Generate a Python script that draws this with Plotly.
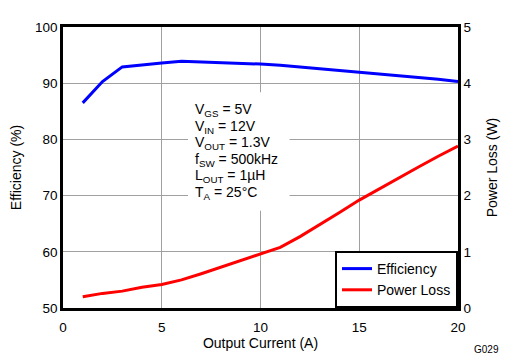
import plotly.graph_objects as go

current = [1, 2, 3, 4, 5, 6, 7, 8, 9, 10, 11, 12, 13, 14, 15, 16, 17, 18, 19, 20]
efficiency = [86.5, 90.3, 92.9, 93.3, 93.6, 93.9, 93.8, 93.6, 93.5, 93.4,
              93.2, 92.9, 92.6, 92.3, 91.9, 91.7, 91.4, 91.1, 90.7, 90.3]
power_loss = [0.20, 0.26, 0.30, 0.37, 0.42, 0.50, 0.61, 0.73, 0.85, 0.97,
              1.08, 1.27, 1.48, 1.70, 1.92, 2.12, 2.32, 2.51, 2.70, 2.88]

info_lines = ["V<sub>GS</sub> = 5V", "V<sub>IN</sub> = 12V", "V<sub>OUT</sub> = 1.3V",
              "f<sub>SW</sub> = 500kHz", "L<sub>OUT</sub> = 1µH", "T<sub>A</sub> = 25°C"]

FONT = "Liberation Sans, Arial, sans-serif"

fig = go.Figure()
fig.add_trace(go.Scatter(x=current, y=efficiency, mode="lines", name="Efficiency",
                         line=dict(color="#0000ff", width=3), yaxis="y"))
fig.add_trace(go.Scatter(x=current, y=power_loss, mode="lines", name="Power Loss",
                         line=dict(color="#ff0000", width=3), yaxis="y2"))

fig.update_layout(
    width=510, height=352,
    margin=dict(l=55, r=60, t=19, b=52, autoexpand=False),
    paper_bgcolor="white", plot_bgcolor="white",
    font=dict(family=FONT, size=13.5, color="black"),
    xaxis=dict(range=[0, 20], tickvals=[0, 5, 10, 15, 20], showgrid=True,
               gridcolor="#a0a0a0", gridwidth=1, zeroline=False, automargin=False,
               showline=True, linecolor="black", linewidth=2.5, mirror=True,
               ticks="", ticklabelstandoff=5,
               title=dict(text="Output Current (A)", standoff=2, font=dict(size=14))),
    yaxis=dict(range=[50, 100], tickvals=[50, 60, 70, 80, 90, 100], showgrid=True,
               gridcolor="#a0a0a0", gridwidth=1, zeroline=False, automargin=False,
               showline=True, linecolor="black", linewidth=2.5, mirror=True,
               ticks="", title=dict(text="Efficiency (%)", standoff=13,
                                    font=dict(size=14))),
    yaxis2=dict(range=[0, 5], tickvals=[0, 1, 2, 3, 4, 5], overlaying="y", side="right",
                showgrid=False, zeroline=False, showline=True, linecolor="black",
                linewidth=2.5, ticks="", automargin=False,
                title=dict(text="Power Loss (W)", standoff=17, font=dict(size=14))),
    legend=dict(x=1, y=0, xanchor="right", yanchor="bottom", bgcolor="white",
                bordercolor="black", borderwidth=2, font=dict(size=14),
                tracegroupgap=0, itemwidth=30),
    showlegend=True,
)

# white box behind the operating-condition text
fig.add_shape(type="rect", xref="x", yref="y", x0=6.33, x1=11.47, y0=67.3, y1=88.4,
              fillcolor="white", line=dict(width=0), layer="above")

line_y = [85.2, 82.25, 79.3, 76.35, 73.4, 70.45]
for txt, yv in zip(info_lines, line_y):
    fig.add_annotation(x=6.6, y=yv, xref="x", yref="y", xanchor="left", yanchor="middle",
                       text=txt, showarrow=False, align="left", font=dict(size=14))

fig.add_annotation(x=1.0, y=0, xref="paper", yref="paper", xanchor="left", yanchor="middle",
                   xshift=14, yshift=-41, text="G029", showarrow=False,
                   font=dict(size=10))

fig.write_html("out.html")
